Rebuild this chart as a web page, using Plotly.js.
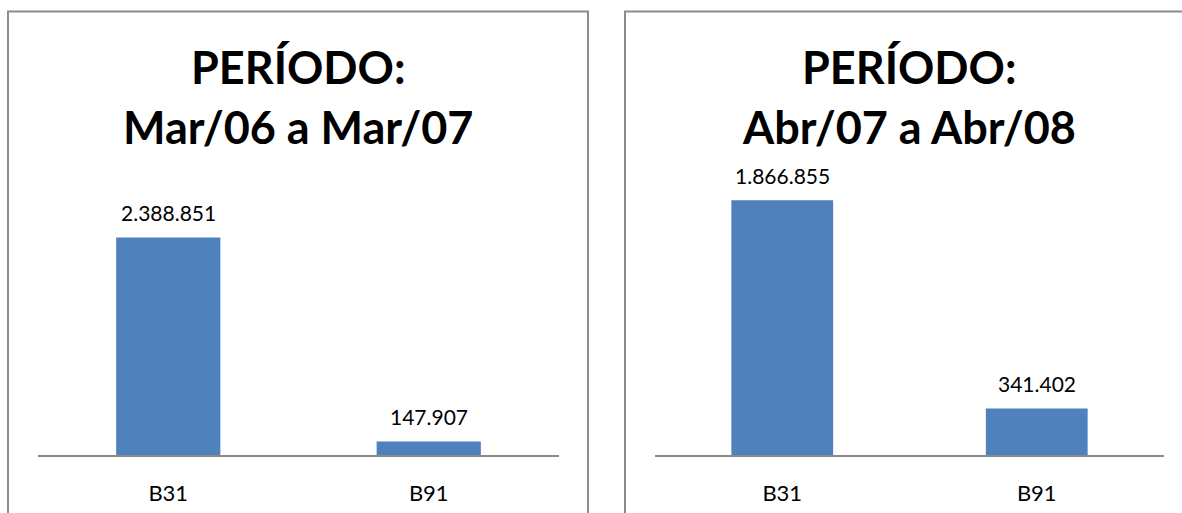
<!DOCTYPE html>
<html>
<head>
<meta charset="utf-8">
<script src="https://cdn.plot.ly/plotly-3.0.1.min.js"></script>
<style>html,body{margin:0;padding:0;background:#fff;}#chart{width:1182px;height:513px;}</style>
</head>
<body>
<div id="chart"></div>
<script>
// ---- data ----
const categories = ["B31", "B91"];
const valuesPeriod1 = [2388851, 147907];
const valuesPeriod2 = [1866855, 341402];
const titleLines1 = ["PERÍODO:", "Mar/06 a Mar/07"];
const titleLines2 = ["PERÍODO:", "Abr/07 a Abr/08"];

// ---- layout helpers ----
const W = 1182, H = 513;
const px = v => v / W;
const py = v => (H - v) / H;
const FONT = "Lato, 'Open Sans', sans-serif";
const BAR = "#4F81BD";
const fmt = v => v.toLocaleString('de-DE');

const traces = [
  {type: 'bar', x: categories, y: valuesPeriod1, xaxis: 'x', yaxis: 'y',
   marker: {color: BAR}, hoverinfo: 'skip'},
  {type: 'bar', x: categories, y: valuesPeriod2, xaxis: 'x2', yaxis: 'y2',
   marker: {color: BAR}, hoverinfo: 'skip'}
];

const annotations = [];
function addLabels(vals, xa, ya) {
  vals.forEach((v, i) => annotations.push({
    x: categories[i], y: v, xref: xa, yref: ya, text: fmt(v), showarrow: false,
    yanchor: 'middle', yshift: 25, font: {family: FONT, size: 21, color: '#000'}
  }));
}
addLabels(valuesPeriod1, 'x', 'y');
addLabels(valuesPeriod2, 'x2', 'y2');

function addTitle(lines, cx) {
  const ys = [67, 127];
  lines.forEach((t, i) => annotations.push({
    x: px(cx), y: py(ys[i]), xref: 'paper', yref: 'paper', text: '<b>' + t + '</b>',
    showarrow: false, xanchor: 'center', yanchor: 'middle',
    font: {family: FONT, size: 45, color: '#000'}
  }));
}
addTitle(titleLines1, 298);
addTitle(titleLines2, 909);

const axisX = dom => ({
  domain: dom, showline: true, linecolor: '#8a8a8a', linewidth: 1.5,
  showgrid: false, zeroline: false, ticks: '', ticklabelstandoff: 18,
  tickfont: {family: FONT, size: 22, color: '#000'}, fixedrange: true
});
const axisY = (rng, anchor) => ({
  domain: [py(455), py(182)], range: rng, visible: false, showgrid: false,
  zeroline: false, anchor: anchor, fixedrange: true
});

const layout = {
  width: W, height: H, margin: {l: 0, r: 0, t: 0, b: 0},
  paper_bgcolor: '#fff', plot_bgcolor: 'rgba(0,0,0,0)',
  showlegend: false, bargap: 0.6,
  font: {family: FONT},
  xaxis: Object.assign(axisX([px(38), px(559)]), {anchor: 'y'}),
  yaxis: axisY([0, 3000000], 'x'),
  xaxis2: Object.assign(axisX([px(655), px(1164)]), {anchor: 'y2'}),
  yaxis2: axisY([0, 2000000], 'x2'),
  annotations: annotations,
  shapes: [
    {type: 'rect', xref: 'paper', yref: 'paper', x0: px(8), x1: px(588), y0: -0.2, y1: py(11.5),
     line: {color: '#8c8c8c', width: 2}, fillcolor: 'rgba(0,0,0,0)', layer: 'below'},
    {type: 'rect', xref: 'paper', yref: 'paper', x0: px(625), x1: 1.2, y0: -0.2, y1: py(11.5),
     line: {color: '#8c8c8c', width: 2}, fillcolor: 'rgba(0,0,0,0)', layer: 'below'}
  ]
};

Plotly.newPlot('chart', traces, layout, {staticPlot: true, displayModeBar: false});
</script>
</body>
</html>
